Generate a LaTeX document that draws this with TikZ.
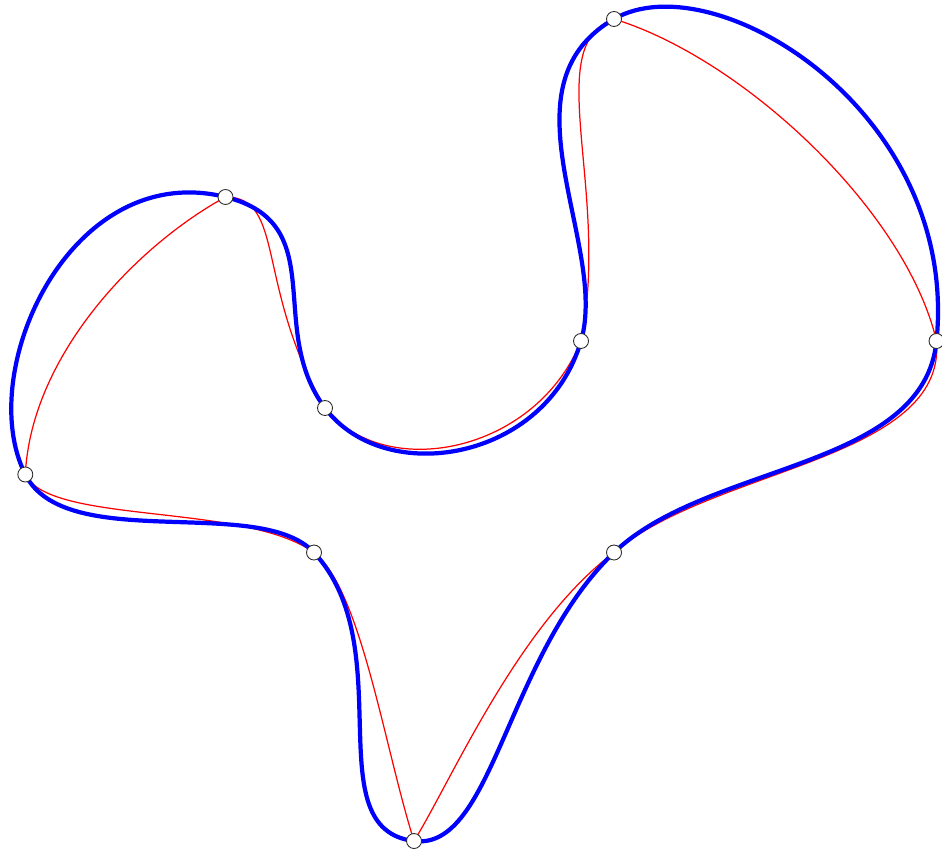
\documentclass[tikz,border=0pt]{standalone}
\usepackage{xcolor}
\usepackage{tikz}
\definecolor{cblue}{HTML}{0000FF}
\definecolor{cred}{HTML}{FF0000}
\definecolor{cink}{HTML}{2B2B2B}
\tikzset{
  knot/.style={circle,draw=cink,line width=0.5pt,fill=white,minimum size=0.3cm,inner sep=0pt},
  splinec/.style={draw=cblue,line width=2.4pt},
  thinc/.style={draw=cred,line width=0.7pt},
}
\begin{document}
\begin{tikzpicture}[x=0.02cm,y=-0.02cm]
\useasboundingbox (0,0) rectangle (942,854);

% interpolation points
\coordinate (p1) at (614,19);
\coordinate (p2) at (936.5,341);
\coordinate (p3) at (614,552.5);
\coordinate (p4) at (414,841);
\coordinate (p5) at (314,552.5);
\coordinate (p6) at (25.3,474.5);
\coordinate (p7) at (225.5,197);
\coordinate (p8) at (325,408);
\coordinate (p9) at (581,341);

% thin curve
\path[thinc] (p1)
  .. controls +(130,40) and +(-30.5,-130) .. (p2)
  .. controls +(10,119) and +(98,-84.5) .. (p3)
  .. controls +(-96,72) and +(37,-59.5) .. (p4)
  .. controls +(-30,-95) and +(47,37) .. (p5)
  .. controls +(-70,-50) and +(24.7,50.5) .. (p6)
  .. controls +(6,-120) and +(-88,48) .. (p7)
  .. controls +(60,0) and +(-70,-121.8) .. (p8)
  .. controls +(60,75) and +(-45,112) .. (p9)
  .. controls +(30,-150) and +(-74,26) .. cycle;

% thick curve through the same points
\path[splinec] (p1)
  .. controls +(99.6,-57.5) and +(23,-230) .. (p2)
  .. controls +(-13,129) and +(94,-90) .. (p3)
  .. controls +(-108,103.5) and +(79,10) .. (p4)
  .. controls +(-99,-12) and +(88,95) .. (p5)
  .. controls +(-54.4,-58.4) and +(40.5,80) .. (p6)
  .. controls +(-51.75,-102.35) and +(-155.2,-38.4) .. (p7)
  .. controls +(106.7,26.4) and +(-60,-80) .. (p8)
  .. controls +(60,80) and +(-35,120) .. (p9)
  .. controls +(28,-96) and +(-117,67.5) .. cycle;

\foreach \i in {1,...,9}
  \node[knot] (k\i) at (p\i) {};

\end{tikzpicture}
\end{document}
